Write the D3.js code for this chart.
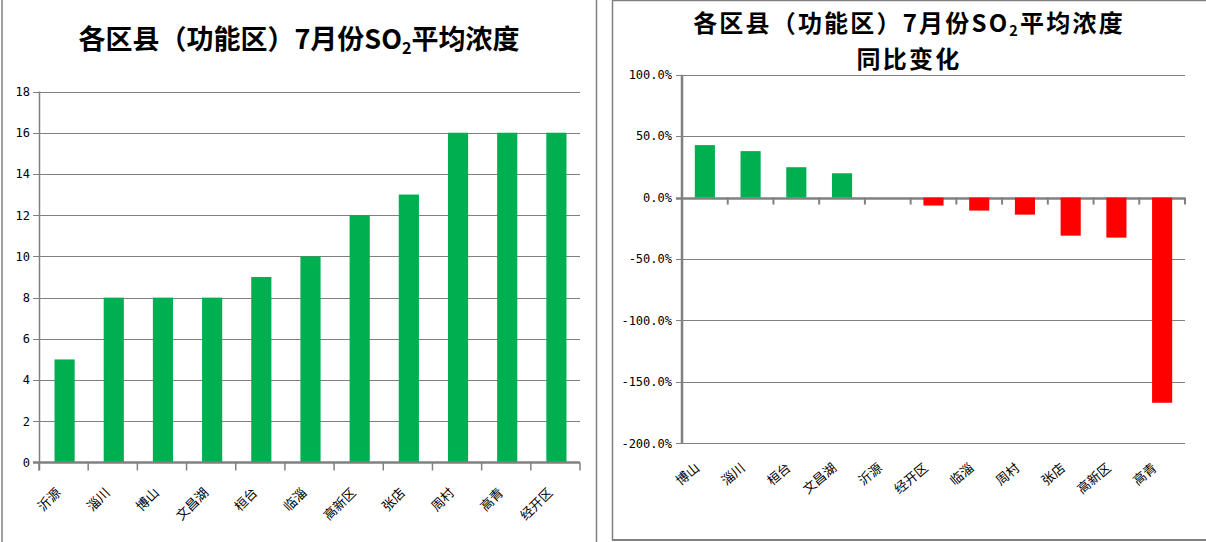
<!DOCTYPE html>
<html><head><meta charset="utf-8">
<script src="https://cdn.jsdelivr.net/npm/d3@7"></script>
<style>
body{margin:0;background:#fff;}
svg{display:block;}
</style></head>
<body>
<svg id="c" width="1206" height="542"></svg>
<script>
// ---- data ----
const leftCategories = ["沂源","淄川","博山","文昌湖","桓台","临淄","高新区","张店","周村","高青","经开区"];
const leftValues = [5, 8, 8, 8, 9, 10, 12, 13, 16, 16, 16];
const leftTicks = [0, 2, 4, 6, 8, 10, 12, 14, 16, 18];

const rightCategories = ["博山","淄川","桓台","文昌湖","沂源","经开区","临淄","周村","张店","高新区","高青"];
const rightValues = [0.427, 0.378, 0.247, 0.198, 0, -0.065, -0.106, -0.139, -0.310, -0.326, -1.67];
const rightTicks = [1.0, 0.5, 0, -0.5, -1.0, -1.5, -2.0];

const titleMain = "各区县（功能区）7月份SO";
const titleSub = "2";
const titleTail = "平均浓度";
const titleLine2 = "同比变化";

const GREEN = "#00B050", RED = "#FF0000", GRAY = "#808080";
const svg = d3.select("#c");
const cjk = "'Noto Sans CJK SC','Noto Sans',sans-serif";
const mono = "'DejaVu Sans Mono','Liberation Mono',monospace";

// chart frames
svg.append("line").attr("x1",2).attr("x2",2).attr("y1",0).attr("y2",542).attr("stroke",GRAY).attr("stroke-width",1.5);
svg.append("line").attr("x1",596.5).attr("x2",596.5).attr("y1",0).attr("y2",542).attr("stroke",GRAY).attr("stroke-width",1.5);
svg.append("line").attr("x1",612.5).attr("x2",612.5).attr("y1",0).attr("y2",540).attr("stroke",GRAY).attr("stroke-width",1.5);
svg.append("line").attr("x1",612).attr("x2",1206).attr("y1",540).attr("y2",540).attr("stroke",GRAY).attr("stroke-width",2);
svg.append("line").attr("x1",612).attr("x2",1206).attr("y1",0.5).attr("y2",0.5).attr("stroke",GRAY).attr("stroke-width",1.5);

function title(g, x, y, size, spacing){
  const t = g.append("text").attr("x",x).attr("y",y).attr("text-anchor","middle")
    .attr("font-family",cjk).attr("font-weight","bold").attr("font-size",size).attr("fill","#000")
    .attr("letter-spacing",spacing||0);
  t.append("tspan").text(titleMain);
  t.append("tspan").attr("font-size",size*0.6).attr("dy",size*0.18).text(titleSub);
  t.append("tspan").attr("dy",-size*0.18).text(titleTail);
  return t;
}

// ---------------- LEFT CHART ----------------
{
  const L = {x0:39, x1:580, y0:91.5, y1:462.5};
  const g = svg.append("g");
  const x = d3.scaleBand().domain(leftCategories).range([L.x0, L.x1]).padding(0);
  const y = d3.scaleLinear().domain([0,18]).range([L.y1, L.y0]);

  g.selectAll(".lg").data(leftTicks.filter(d=>d>0)).join("line")
    .attr("x1",L.x0-6).attr("x2",L.x1).attr("y1",d=>Math.round(y(d))+0.5).attr("y2",d=>Math.round(y(d))+0.5)
    .attr("stroke",GRAY).attr("stroke-width",1.2);

  const bw = x.step()*0.41;
  g.selectAll(".lb").data(leftCategories).join("rect")
    .attr("x",(d)=>x(d)+x.bandwidth()/2-bw/2+1).attr("width",bw)
    .attr("y",(d,i)=>y(leftValues[i])).attr("height",(d,i)=>y(0)-y(leftValues[i]))
    .attr("fill",GREEN);

  const ya = d3.axisLeft(y).tickValues(leftTicks).tickSize(0).tickPadding(9).tickFormat(d3.format("d"));
  const yg = g.append("g").attr("transform",`translate(${L.x0},0)`).call(ya);
  yg.select(".domain").remove();
  yg.selectAll("text").attr("font-family",mono).attr("font-size",12).attr("fill","#000");
  g.append("line").attr("x1",L.x0+0.5).attr("x2",L.x0+0.5).attr("y1",L.y0).attr("y2",L.y1+8).attr("stroke",GRAY).attr("stroke-width",1.5);

  g.append("line").attr("x1",L.x0-6).attr("x2",L.x1).attr("y1",L.y1).attr("y2",L.y1).attr("stroke",GRAY).attr("stroke-width",2.5);
  const bounds = leftCategories.map(d=>x(d)).concat([L.x1]);
  g.selectAll(".lt").data(bounds).join("line")
    .attr("x1",d=>d).attr("x2",d=>d).attr("y1",L.y1).attr("y2",L.y1+8).attr("stroke",GRAY).attr("stroke-width",1.5);

  g.selectAll(".ll").data(leftCategories).join("text")
    .attr("transform",d=>`translate(${x(d)+x.bandwidth()/2-2},${L.y1+31}) rotate(-45)`)
    .attr("text-anchor","end").attr("font-family",cjk).attr("font-size",13).attr("fill","#000")
    .text(d=>d);

  title(g, 299, 49, 27);
}

// ---------------- RIGHT CHART ----------------
{
  const R = {x0:682, x1:1185, y0:74.7, y1:443.3};
  const g = svg.append("g");
  const x = d3.scaleBand().domain(rightCategories).range([R.x0, R.x1]).padding(0);
  const y = d3.scaleLinear().domain([-2,1]).range([R.y1, R.y0]);

  g.selectAll(".rg").data(rightTicks).join("line")
    .attr("x1",R.x0-6).attr("x2",R.x1).attr("y1",d=>Math.round(y(d))+0.5).attr("y2",d=>Math.round(y(d))+0.5)
    .attr("stroke",GRAY).attr("stroke-width",d=>d===0?2.5:1.2);

  const bw = x.step()*0.44;
  g.selectAll(".rb").data(rightCategories).join("rect")
    .attr("x",d=>x(d)+x.bandwidth()/2-bw/2).attr("width",bw)
    .attr("y",(d,i)=>y(Math.max(0,rightValues[i])))
    .attr("height",(d,i)=>Math.abs(y(rightValues[i])-y(0)))
    .attr("fill",(d,i)=>rightValues[i]>=0?GREEN:RED);

  const ya = d3.axisLeft(y).tickValues(rightTicks).tickSize(0).tickPadding(10).tickFormat(d3.format(".1%"));
  const yg = g.append("g").attr("transform",`translate(${R.x0},0)`).call(ya);
  yg.select(".domain").remove();
  yg.selectAll("text").attr("font-family",mono).attr("font-size",12).attr("fill","#000").text(d=>d3.format(".1%")(d).replace("−","-"));
  g.append("line").attr("x1",R.x0).attr("x2",R.x0).attr("y1",R.y0).attr("y2",R.y1).attr("stroke",GRAY).attr("stroke-width",2.5);

  const bounds = rightCategories.map(d=>x(d)).slice(1).concat([R.x1]);
  g.selectAll(".rt").data(bounds).join("line")
    .attr("x1",d=>d).attr("x2",d=>d).attr("y1",y(0)).attr("y2",y(0)+7).attr("stroke",GRAY).attr("stroke-width",2);

  g.selectAll(".rl").data(rightCategories).join("text")
    .attr("transform",d=>`translate(${x(d)+x.bandwidth()/2-4.5},${R.y1+26}) rotate(-40)`)
    .attr("text-anchor","end").attr("font-family",cjk).attr("font-size",13).attr("fill","#000")
    .text(d=>d);

  title(g, 909, 31.5, 24, 2.2);
  g.append("text").attr("x",909).attr("y",67.5).attr("text-anchor","middle")
    .attr("font-family",cjk).attr("font-weight","bold").attr("font-size",24).attr("letter-spacing",2.2)
    .attr("fill","#000").text(titleLine2);
}
</script>
</body></html>
